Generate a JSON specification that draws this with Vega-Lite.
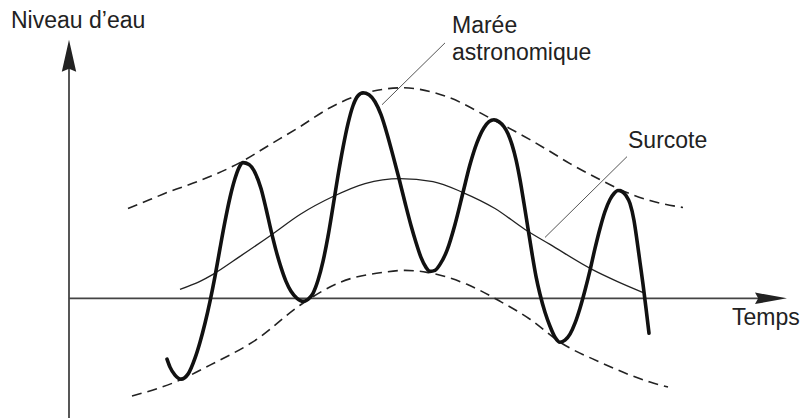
{
  "$schema": "https://vega.github.io/schema/vega-lite/v6.json",
  "width": 800,
  "height": 419,
  "padding": 0,
  "autosize": {"type": "fit", "contains": "padding"},
  "background": "white",
  "config": {"view": {"stroke": null}},
  "datasets": {
    "upper": [
      {"t":128,"h":90},{"t":150,"h":99},{"t":167,"h":106},{"t":200,"h":118},{"t":240,"h":136},{"t":270,"h":154},{"t":300,"h":172},{"t":330,"h":191},{"t":363,"h":205},{"t":403,"h":211},{"t":447,"h":202},{"t":493,"h":179},{"t":530,"h":159},{"t":547,"h":149},{"t":570,"h":135},{"t":600,"h":119},{"t":620,"h":109},{"t":650,"h":98},{"t":683,"h":91}
    ],
    "lower": [
      {"t":132,"h":-98},{"t":180,"h":-82},{"t":210,"h":-67},{"t":257,"h":-41},{"t":300,"h":-7},{"t":340,"h":16},{"t":383,"h":26},{"t":405,"h":28},{"t":427,"h":26},{"t":467,"h":14},{"t":500,"h":-3},{"t":530,"h":-21},{"t":560,"h":-44},{"t":600,"h":-64},{"t":650,"h":-84},{"t":668,"h":-89}
    ],
    "surcote": [
      {"t":180,"h":9},{"t":200,"h":17},{"t":213,"h":24},{"t":240,"h":42},{"t":272,"h":64},{"t":300,"h":84},{"t":333,"h":102},{"t":365,"h":115},{"t":400,"h":120},{"t":433,"h":117},{"t":463,"h":106},{"t":495,"h":90},{"t":525,"h":69},{"t":550,"h":54},{"t":592,"h":29},{"t":617,"h":17},{"t":645,"h":5}
    ],
    "maree": [
      {"t":167,"h":-61},{"t":170,"h":-69},{"t":175,"h":-77},{"t":181,"h":-81},{"t":188,"h":-76},{"t":195,"h":-60},{"t":200,"h":-44},{"t":205,"h":-25},{"t":210,"h":-3},{"t":215,"h":22},{"t":220,"h":50},{"t":225,"h":77},{"t":230,"h":101},{"t":235,"h":120},{"t":239,"h":131},{"t":243,"h":136},
      {"t":249,"h":134},{"t":255,"h":126},{"t":261,"h":110},{"t":266,"h":90},{"t":271,"h":68},{"t":276,"h":48},{"t":281,"h":31},{"t":286,"h":17},{"t":291,"h":7},{"t":297,"h":0},{"t":303,"h":-3},
      {"t":308,"h":-1},{"t":313,"h":5},{"t":318,"h":18},{"t":323,"h":37},{"t":328,"h":62},{"t":333,"h":92},{"t":338,"h":123},{"t":343,"h":151},{"t":348,"h":175},{"t":353,"h":193},{"t":358,"h":203},{"t":363,"h":206},
      {"t":369,"h":204},{"t":375,"h":197},{"t":381,"h":184},{"t":387,"h":165},{"t":393,"h":143},{"t":399,"h":120},{"t":405,"h":96},{"t":411,"h":73},{"t":416,"h":56},{"t":421,"h":41},{"t":426,"h":31},{"t":430,"h":27},
      {"t":435,"h":28},{"t":440,"h":34},{"t":447,"h":48},{"t":455,"h":74},{"t":463,"h":106},{"t":470,"h":134},{"t":477,"h":156},{"t":484,"h":171},{"t":489,"h":177},{"t":494,"h":179},
      {"t":499,"h":177},{"t":504,"h":172},{"t":508,"h":165},{"t":512,"h":154},{"t":516,"h":139},{"t":520,"h":119},{"t":524,"h":95},{"t":528,"h":70},{"t":532,"h":45},{"t":536,"h":22},{"t":540,"h":4},{"t":545,"h":-14},{"t":550,"h":-28},{"t":555,"h":-39},{"t":560,"h":-44},
      {"t":565,"h":-42},{"t":570,"h":-36},{"t":575,"h":-25},{"t":580,"h":-10},{"t":585,"h":8},{"t":590,"h":28},{"t":595,"h":50},{"t":600,"h":70},{"t":605,"h":87},{"t":610,"h":99},{"t":614,"h":105},{"t":618,"h":108},
      {"t":622,"h":107},{"t":626,"h":103},{"t":630,"h":95},{"t":634,"h":78},{"t":637,"h":58},{"t":640,"h":36},{"t":643,"h":14},{"t":646,"h":-10},{"t":649,"h":-35}
    ],
    "segments": [
      {"name":"yaxis","t":69,"h":-120,"t2":69,"h2":235},
      {"name":"xaxis","t":69,"h":0,"t2":762,"h2":0}
    ],
    "leaders": [
      {"name":"maree","t":445,"h":256,"t2":382,"h2":194},
      {"name":"surcote","t":627,"h":142,"t2":545,"h2":61}
    ],
    "arrowUp": [{"t":69,"h":243}],
    "arrowRight": [{"t":771,"h":0}],
    "labels": [
      {"text":"Niveau d’eau","t":11,"h":271},
      {"text":"Marée","t":452,"h":266},
      {"text":"astronomique","t":452,"h":239},
      {"text":"Surcote","t":628,"h":151},
      {"text":"Temps","t":732,"h":-27}
    ]
  },
  "encoding": {
    "x": {"field":"t","type":"quantitative","scale":{"domain":[0,800],"nice":false,"zero":false},"axis":null},
    "y": {"field":"h","type":"quantitative","scale":{"domain":[-120,299],"nice":false,"zero":false},"axis":null}
  },
  "layer": [
    {
      "data": {"name":"segments"},
      "mark": {"type":"rule","color":"#444","strokeWidth":1.8},
      "encoding": {"x2":{"field":"t2"},"y2":{"field":"h2"}}
    },
    {
      "data": {"name":"arrowUp"},
      "mark": {"type":"point","shape":"M0,-1L0.45,1L0,0.8L-0.45,1Z","size":1024,"filled":true,"color":"#222","opacity":1,"strokeWidth":0}
    },
    {
      "data": {"name":"arrowRight"},
      "mark": {"type":"point","shape":"M1,0L-1,-0.36L-0.8,0L-1,0.36Z","size":1024,"filled":true,"color":"#222","opacity":1,"strokeWidth":0}
    },
    {
      "data": {"name":"leaders"},
      "mark": {"type":"rule","color":"#555","strokeWidth":1},
      "encoding": {"x2":{"field":"t2"},"y2":{"field":"h2"}}
    },
    {
      "data": {"name":"upper"},
      "mark": {"type":"line","color":"#222","strokeWidth":1.6,"strokeDash":[10,6],"interpolate":"monotone"}
    },
    {
      "data": {"name":"lower"},
      "mark": {"type":"line","color":"#222","strokeWidth":1.6,"strokeDash":[10,6],"interpolate":"monotone"}
    },
    {
      "data": {"name":"surcote"},
      "mark": {"type":"line","color":"#222","strokeWidth":1.3,"interpolate":"monotone"}
    },
    {
      "data": {"name":"maree"},
      "mark": {"type":"line","color":"#111","strokeWidth":3.6,"strokeCap":"round","strokeJoin":"round","interpolate":"monotone"}
    },
    {
      "data": {"name":"labels"},
      "mark": {"type":"text","align":"left","baseline":"alphabetic","font":"Liberation Sans","fontSize":23,"color":"#222"},
      "encoding": {"text":{"field":"text"}}
    }
  ]
}
